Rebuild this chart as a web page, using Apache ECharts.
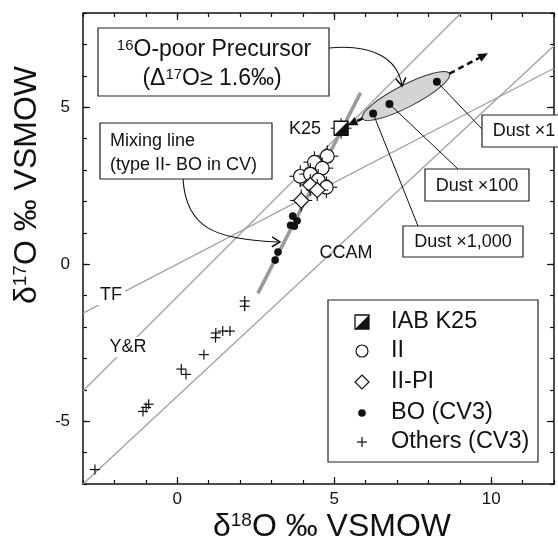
<!DOCTYPE html>
<html>
<head>
<meta charset="utf-8">
<title>δ17O vs δ18O</title>
<script src="https://cdn.jsdelivr.net/npm/echarts@6.0.0/dist/echarts.min.js"></script>
<style>
  html, body { margin: 0; padding: 0; background: #ffffff; }
  #chart { width: 558px; height: 543px; }
</style>
</head>
<body>
<div id="chart"></div>
<script>
// ---------- values (‰ VSMOW) ----------
// rows with error bars: [δ18O, δ17O, ±δ18O, ±δ17O]
const iabK25 = [[5.22, 4.33, 0.33, 0.33]];
const typeII = [
  [4.78, 3.44, 0.35, 0.35],
  [4.37, 3.25, 0.35, 0.35],
  [4.62, 3.06, 0.35, 0.35],
  [3.92, 2.80, 0.35, 0.35],
  [4.24, 2.87, 0.35, 0.35],
  [4.49, 2.68, 0.35, 0.35],
  [4.75, 2.45, 0.35, 0.35]
];
const typeIIPI = [
  [4.24, 2.52, 0.35, 0.35],
  [4.46, 2.36, 0.35, 0.35],
  [3.95, 2.03, 0.35, 0.35]
];
// [δ18O, δ17O]
const boCV3 = [[3.68, 1.53], [3.82, 1.38], [3.61, 1.24], [3.73, 1.21], [3.21, 0.39], [3.12, 0.13]];
const othersCV3 = [
  [-2.62, -6.54], [-1.09, -4.69], [-0.99, -4.56], [-0.91, -4.46],
  [0.13, -3.34], [0.28, -3.51], [0.85, -2.88], [1.22, -2.34], [1.23, -2.19],
  [1.45, -2.13], [1.68, -2.13], [2.15, -1.17], [2.15, -1.34]
];
const dustMix = [[6.24, 4.80], [6.76, 5.10], [8.27, 5.81]];
const dustNames = ['Dust ×1,000', 'Dust ×100', 'Dust ×1'];

// reference lines, end points
const tfLine = [[-3, -1.56], [12, 6.24]];
const yrLine = [[-3, -4.04], [9.04, 8]];
const ccamLine = [[-3, -7.0], [12, 6.96]];
const mixingLine = [[2.57, -0.93], [5.84, 5.46]];
// dust trend through K25 (ellipse ends and arrow tip)
const dustTrend = [[5.90, 4.64], [8.67, 6.07], [9.90, 6.72]];

const xTicks = [0, 5, 10];
const yTicks = [-5, 0, 5];
const legendNames = ['IAB K25', 'II', 'II-PI', 'BO (CV3)', 'Others (CV3)'];

// ---------- styling ----------
const FONT = '"Liberation Sans", Arial, Helvetica, sans-serif';
const INK = '#111111';
const GRAY = '#a0a0a0';

const chart = echarts.init(document.getElementById('chart'), null, { renderer: 'canvas' });

function frameAxis(position, range, ticks, major, withLabels) {
  const a = {
    type: 'value', position, min: range[0], max: range[1],
    splitLine: { show: false },
    axisLine: { show: !major, onZero: false, lineStyle: { color: INK, width: 1.5 } },
    axisTick: { show: true, inside: true, length: major ? 7 : 4, lineStyle: { color: INK, width: 1.2 } },
    axisLabel: { show: false }
  };
  if (major) {
    a.axisTick.customValues = ticks;
  } else {
    a.interval = 1;
  }
  if (withLabels) {
    a.axisLabel = {
      show: true, customValues: ticks, color: INK, fontSize: 17, fontFamily: FONT,
      margin: position === 'bottom' ? 7 : 13
    };
  }
  return a;
}

// custom marks with optional cross error bars
function markSeries(name, data, draw, z) {
  return {
    type: 'custom', name, data, z, silent: true, clip: false,
    xAxisIndex: 0, yAxisIndex: 0,
    encode: { x: 0, y: 1 },
    renderItem(params, api) {
      const x = api.value(0), y = api.value(1);
      const c = api.coord([x, y]);
      const kids = [];
      if (data[params.dataIndex].length > 2) {
        const ex = api.value(2), ey = api.value(3);
        const l = api.coord([x - ex, y]), r = api.coord([x + ex, y]);
        const t = api.coord([x, y + ey]), b = api.coord([x, y - ey]);
        kids.push({ type: 'line', shape: { x1: l[0], y1: l[1], x2: r[0], y2: r[1] }, style: { stroke: INK, lineWidth: 1.1 } });
        kids.push({ type: 'line', shape: { x1: t[0], y1: t[1], x2: b[0], y2: b[1] }, style: { stroke: INK, lineWidth: 1.1 } });
      }
      return { type: 'group', children: kids.concat(draw(c[0], c[1])) };
    }
  };
}

const drawHalfSquare = (x, y, h = 7) => [
  { type: 'rect', shape: { x: x - h, y: y - h, width: 2 * h, height: 2 * h }, style: { fill: '#fff', stroke: INK, lineWidth: 1.3 } },
  { type: 'polygon', shape: { points: [[x + h, y - h], [x + h, y + h], [x - h, y + h]] }, style: { fill: INK } }
];
const drawOpenCircle = (x, y, r = 6.8) => [
  { type: 'circle', shape: { cx: x, cy: y, r }, style: { fill: '#fff', stroke: INK, lineWidth: 1.2 } }
];
const drawDiamond = (x, y, h = 7.6) => [
  { type: 'polygon', shape: { points: [[x, y - h], [x + h, y], [x, y + h], [x - h, y]] }, style: { fill: '#fff', stroke: INK, lineWidth: 1.2 } }
];
const drawDot = (x, y, r = 3.8) => [
  { type: 'circle', shape: { cx: x, cy: y, r }, style: { fill: INK } }
];
const drawPlus = (x, y, h = 5) => [
  { type: 'line', shape: { x1: x - h, y1: y, x2: x + h, y2: y }, style: { stroke: INK, lineWidth: 1.2 } },
  { type: 'line', shape: { x1: x, y1: y - h, x2: x, y2: y + h }, style: { stroke: INK, lineWidth: 1.2 } }
];

function refLine(name, data, color, width, z) {
  return { type: 'line', name, data, symbol: 'none', silent: true, z, xAxisIndex: 0, yAxisIndex: 0,
           lineStyle: { color, width }, clip: true };
}

const xRange = [-3, 12], yRange = [-7, 8];

chart.setOption({
  animation: false,
  backgroundColor: '#ffffff',
  textStyle: { fontFamily: FONT },
  grid: { left: 83, top: 13, right: 4, bottom: 59, containLabel: false, outerBoundsMode: 'none' },
  xAxis: [
    frameAxis('bottom', xRange, xTicks, false, true),
    frameAxis('bottom', xRange, xTicks, true, false),
    frameAxis('top', xRange, xTicks, false, false),
    frameAxis('top', xRange, xTicks, true, false)
  ],
  yAxis: [
    frameAxis('left', yRange, yTicks, false, true),
    frameAxis('left', yRange, yTicks, true, false),
    frameAxis('right', yRange, yTicks, false, false),
    frameAxis('right', yRange, yTicks, true, false)
  ],
  series: [
    refLine('TF', tfLine, GRAY, 1.3, 2),
    refLine('Y&R', yrLine, GRAY, 1.3, 2),
    refLine('CCAM', ccamLine, GRAY, 1.3, 2),
    refLine('Mixing line', mixingLine, '#9a9a9a', 3.6, 3),
    markSeries('Others (CV3)', othersCV3, (x, y) => drawPlus(x, y), 6),
    markSeries('BO (CV3)', boCV3, (x, y) => drawDot(x, y), 6),
    markSeries('II', typeII, (x, y) => drawOpenCircle(x, y), 6),
    markSeries('II-PI', typeIIPI, (x, y) => drawDiamond(x, y), 7),
    markSeries('IAB K25', iabK25, (x, y) => drawHalfSquare(x, y), 7),
    markSeries('Dust', dustMix, (x, y) => drawDot(x, y, 4), 7)
  ]
});

// ---------- annotations ----------
const at = p => chart.convertToPixel({ seriesIndex: 0 }, p);

function text(str, x, y, size, extra) {
  return {
    type: 'text', x, y, z: 9, silent: true,
    style: Object.assign({ text: str, fontSize: size, fontFamily: FONT, fill: INK, align: 'center', verticalAlign: 'middle' }, extra || {})
  };
}
function box(x, y, w, h) {
  return { type: 'rect', z: 8, silent: true, shape: { x, y, width: w, height: h }, style: { fill: '#fff', stroke: '#222', lineWidth: 1.2 } };
}
function seg(p, q, w, z, dash) {
  return { type: 'line', z, silent: true, shape: { x1: p[0], y1: p[1], x2: q[0], y2: q[1] },
           style: { stroke: INK, lineWidth: w, lineDash: dash || null } };
}
function dashedArrow(p0, p1) {
  const dx = p1[0] - p0[0], dy = p1[1] - p0[1], L = Math.hypot(dx, dy), ux = dx / L, uy = dy / L;
  const hl = 10, hw = 4.5;
  const bx = p1[0] - ux * hl, by = p1[1] - uy * hl;
  return [
    seg(p0, [bx, by], 2.6, 5, [6, 4]),
    { type: 'polygon', z: 5, silent: true, shape: { points: [p1, [bx - uy * hw, by + ux * hw], [bx + uy * hw, by - ux * hw]] }, style: { fill: INK } }
  ];
}
function curvedArrow(p0, c1, c2, p1) {
  const dx = p1[0] - c2[0], dy = p1[1] - c2[1], L = Math.hypot(dx, dy), ux = dx / L, uy = dy / L;
  const hl = 8, hw = 5;
  const bx = p1[0] - ux * hl, by = p1[1] - uy * hl;
  return [
    { type: 'bezierCurve', z: 5, silent: true,
      shape: { x1: p0[0], y1: p0[1], cpx1: c1[0], cpy1: c1[1], cpx2: c2[0], cpy2: c2[1], x2: p1[0], y2: p1[1] },
      style: { stroke: INK, lineWidth: 1.1, fill: null } },
    { type: 'polyline', z: 5, silent: true,
      shape: { points: [[bx - uy * hw, by + ux * hw], p1, [bx + uy * hw, by - ux * hw]] },
      style: { stroke: INK, lineWidth: 1.5, fill: null } }
  ];
}

const g = [];

// grey envelope around the dust mixtures
const e0 = at(dustTrend[0]), e1 = at(dustTrend[1]);
g.push({
  type: 'ellipse', z: 4, silent: true,
  x: (e0[0] + e1[0]) / 2, y: (e0[1] + e1[1]) / 2,
  rotation: Math.atan2(e0[1] - e1[1], e1[0] - e0[0]),
  shape: { cx: 0, cy: 0, rx: Math.hypot(e1[0] - e0[0], e1[1] - e0[1]) / 2, ry: 11 },
  style: { fill: '#d4d4d4', stroke: '#333', lineWidth: 1 }
});

// dashed trend arrows (towards K25 and beyond the envelope)
const k = at([iabK25[0][0], iabK25[0][1]]);
const toK = [e0[0] - k[0], e0[1] - k[1]], toKL = Math.hypot(toK[0], toK[1]);
g.push(...dashedArrow(e0, [k[0] + toK[0] / toKL * 7, k[1] + toK[1] / toKL * 7]));
g.push(...dashedArrow(e1, at(dustTrend[2])));

// dust labels with leader lines
const dustBoxes = [
  { x: 403, y: 226, w: 120, h: 31, tx: 463, ty: 242, anchor: [418, 226] },
  { x: 425, y: 169, w: 104, h: 32, tx: 477, ty: 186, anchor: [458, 169] },
  { x: 482, y: 115, w: 84, h: 32, tx: 524, ty: 131, anchor: [482, 129] }
];
dustMix.forEach((d, i) => {
  const b = dustBoxes[i];
  g.push(seg(at(d), b.anchor, 1, 5));
  g.push(box(b.x, b.y, b.w, b.h));
  g.push(text(dustNames[i], b.tx, b.ty, 18));
});

// precursor note
const supSmall = { fontSize: 15, fontFamily: FONT, fill: INK, verticalAlign: 'top' };
g.push(box(98, 28, 231, 68));
g.push(text('{s|16}O-poor Precursor', 214, 50, 23, { rich: { s: supSmall } }));
g.push(text('(Δ{s|17}O≥ 1.6‰)', 212, 79, 23, { rich: { s: supSmall } }));
g.push(...curvedArrow([329, 48], [372, 44], [398, 58], [402, 86]));

// mixing-line note
g.push(box(100, 123, 172, 56));
g.push(text('Mixing line', 110, 141, 18, { align: 'left' }));
g.push(text('(type II- BO in CV)', 110, 165, 18, { align: 'left' }));
g.push(...curvedArrow([183, 179], [186, 228], [215, 240], [280, 242]));

// line and point labels
g.push(text('K25', 305, 129, 18));
g.push(text('CCAM', 346, 253, 18));
g.push(text('TF', 111, 295, 18, { backgroundColor: '#fff', padding: [1, 3] }));
g.push(text('Y&R', 128, 347, 18, { backgroundColor: '#fff', padding: [1, 3] }));

// legend
g.push(box(328, 300, 210, 162));
const rowY = [322, 351, 382, 413, 442];
const icons = [
  (x, y) => drawHalfSquare(x, y, 7),
  (x, y) => drawOpenCircle(x, y, 6),
  (x, y) => drawDiamond(x, y, 7),
  (x, y) => drawDot(x, y, 3.8),
  (x, y) => drawPlus(x, y, 5)
];
legendNames.forEach((n, i) => {
  icons[i](362, rowY[i]).forEach(el => { el.z = 9; el.silent = true; g.push(el); });
  g.push(text(n, 391, rowY[i], 23.5, { align: 'left' }));
});

// axis titles
const sup = { fontSize: 19, fontFamily: FONT, fill: INK, verticalAlign: 'top' };
g.push(text('δ{s|18}O ‰ VSMOW', 332, 527, 32, { rich: { s: sup } }));
g.push(Object.assign(text('δ{s|17}O ‰ VSMOW', 27, 185, 32, { rich: { s: sup } }), { rotation: Math.PI / 2 }));

chart.setOption({ graphic: g });
</script>
</body>
</html>
